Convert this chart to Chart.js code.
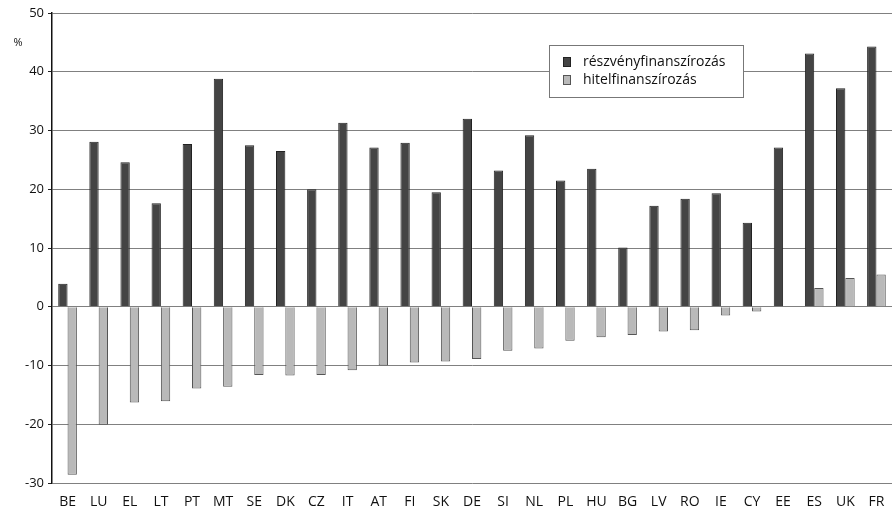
<!DOCTYPE html>
<html>
<head>
<meta charset="utf-8">
<script src="https://cdn.jsdelivr.net/npm/chart.js@4/dist/chart.umd.min.js"></script>
<style>
  html, body { margin: 0; padding: 0; background: #fff; }
  #wrap { width: 892px; height: 511px; }
</style>
</head>
<body>
<div id="wrap"><canvas id="chart"></canvas></div>
<script>
const countries = ['BE', 'LU', 'EL', 'LT', 'PT', 'MT', 'SE', 'DK', 'CZ', 'IT', 'AT', 'FI', 'SK', 'DE',
  'SI', 'NL', 'PL', 'HU', 'BG', 'LV', 'RO', 'IE', 'CY', 'EE', 'ES', 'UK', 'FR'];
const equity = [3.9, 28.1, 24.6, 17.6, 27.7, 38.8, 27.5, 26.5, 20.0, 31.3, 27.1, 27.9, 19.5, 32.0,
  23.2, 29.2, 21.5, 23.5, 10.1, 17.2, 18.4, 19.3, 14.3, 27.1, 43.1, 37.2, 44.3];
const debt = [-28.6, -20.1, -16.3, -16.1, -13.9, -13.6, -11.6, -11.7, -11.6, -10.8, -10.0, -9.5, -9.3, -8.9,
  -7.5, -7.1, -5.8, -5.2, -4.8, -4.2, -4.0, -1.5, -0.8, 0, 3.2, 4.9, 5.5];
const seriesNames = ['részvényfinanszírozás', 'hitelfinanszírozás'];
const yMin = -30, yMax = 50, yStep = 10;

const FONT = '"Open Sans", "Noto Sans", sans-serif';

// legend box + "%" label drawn on top of the grid
const overlay = {
  id: 'overlay',
  afterDraw(chart) {
    const ctx = chart.ctx;
    ctx.save();
    ctx.font = '11px ' + FONT;
    ctx.fillStyle = '#111';
    ctx.textAlign = 'center';
    ctx.textBaseline = 'middle';
    ctx.fillText('%', 18, 43);

    const bx = 549, by = 45, bw = 194, bh = 52;
    ctx.fillStyle = '#fff';
    ctx.fillRect(bx, by, bw, bh);
    ctx.strokeStyle = '#777';
    ctx.lineWidth = 1;
    ctx.strokeRect(bx + 0.5, by + 0.5, bw, bh);
    ctx.font = '14px ' + FONT;
    ctx.textAlign = 'left';
    chart.data.datasets.forEach((ds, i) => {
      const y = by + 17 + i * 18;
      ctx.fillStyle = ds.backgroundColor;
      ctx.fillRect(bx + 14, y - 5, 8, 10);
      ctx.strokeStyle = ds.borderColor;
      ctx.strokeRect(bx + 14.5, y - 4.5, 7, 9);
      ctx.fillStyle = '#111';
      ctx.fillText(ds.label, bx + 34, y);
    });
    ctx.restore();
  }
};

new Chart(document.getElementById('chart'), {
  type: 'bar',
  data: {
    labels: countries,
    datasets: [{
      label: seriesNames[0],
      data: equity,
      backgroundColor: '#444444',
      borderColor: '#222222',
      borderWidth: 1,
      categoryPercentage: 0.6,
      barPercentage: 1.0
    }, {
      label: seriesNames[1],
      data: debt,
      backgroundColor: '#b9b9b9',
      borderColor: '#555555',
      borderWidth: 1,
      categoryPercentage: 0.6,
      barPercentage: 1.0
    }]
  },
  options: {
    responsive: true,
    maintainAspectRatio: false,
    animation: false,
    layout: { padding: { top: 13, right: 0, left: 0, bottom: 0 } },
    plugins: {
      legend: { display: false },
      tooltip: { enabled: false }
    },
    scales: {
      x: {
        grid: { display: false },
        border: { display: false },
        ticks: {
          color: '#111',
          font: { family: FONT, size: 14 },
          maxRotation: 0,
          autoSkip: false,
          padding: 3
        },
        afterFit(scale) { scale.height = 28; }
      },
      y: {
        min: yMin,
        max: yMax,
        ticks: {
          stepSize: yStep,
          color: '#111',
          font: { family: FONT, size: 13 },
          padding: 4
        },
        grid: {
          color: '#808080',
          lineWidth: 1,
          drawTicks: true,
          tickLength: 4,
          tickColor: '#222'
        },
        border: { color: '#111', width: 1.5 },
        afterFit(scale) { scale.width = 52; }
      }
    }
  },
  plugins: [overlay]
});
</script>
</body>
</html>
